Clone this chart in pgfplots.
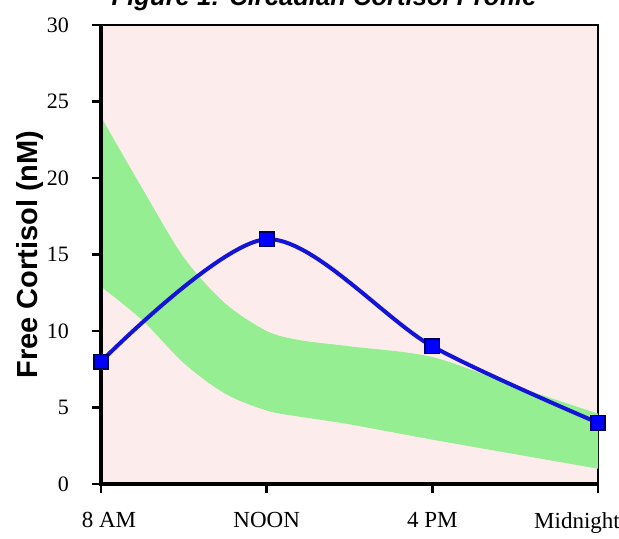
\documentclass[border=0pt]{standalone}
\usepackage{pgfplots}
\pgfplotsset{compat=1.18}
\usepgfplotslibrary{fillbetween}
\usepackage{fontspec}
\setmainfont{Liberation Serif}
\newfontfamily\arial{Liberation Sans}
\definecolor{bgpink}{RGB}{253,236,236}
\definecolor{bandgreen}{RGB}{150,238,146}
\definecolor{lineblue}{RGB}{20,20,215}
\definecolor{markedge}{RGB}{0,0,90}
\begin{document}
\begin{tikzpicture}
\begin{axis}[
  at={(0,0)}, anchor=south west,
  scale only axis,
  width=248.5pt, height=229.5pt,
  xmin=0, xmax=3, ymin=0, ymax=30,
  xtick={0,1,2,3},
  xticklabels={{\makebox[0pt]{\hspace*{8pt}8 AM}},NOON,4 PM,{\makebox[0pt]{\hspace*{-21pt}Midnight}}},
  ytick={0,5,...,30},
  tick align=outside,
  xtick pos=bottom, ytick pos=left,
  major tick length=4.5pt,
  every tick/.style={black, line width=1.2pt},
  axis line style={line width=0.9pt},
  axis background/.style={fill=bgpink},
  /pgf/number format/assume math mode=true,
  yticklabel style={font=\fontsize{11}{13}\selectfont, xshift=-8pt},
  xticklabel style={font=\fontsize{11.5}{13}\selectfont, yshift=-6pt},
  ylabel={\arial\bfseries Free Cortisol (nM)},
  ylabel style={font=\fontsize{14.5}{16}\selectfont, at={(axis description cs:-0.143,0.5)}, anchor=center, rotate=0},
  clip=false,
]
\addplot[name path=U, draw=none, smooth] coordinates {
  (0,24) (0.25,19.3) (0.5,14.8) (0.75,11.8) (1,10) (1.2,9.4) (1.5,9.0) (2,8.3) (2.5,6.4) (3,4.6)};
\addplot[name path=L, draw=none, smooth] coordinates {
  (0,12.9) (0.25,10.7) (0.5,7.9) (0.75,5.9) (1,4.8) (1.2,4.4) (1.5,3.9) (2,2.9) (2.5,1.95) (3,1.0)};
\addplot[fill=bandgreen, draw=none] fill between[of=U and L];
\draw[line width=1.8pt, black] (axis cs:0,30) -- (axis cs:0,0) -- (axis cs:3,0);
\addplot[lineblue, line width=2pt, smooth, mark=square*, mark size=3.6pt,
  mark options={fill=blue, draw=markedge, line width=0.8pt, solid}] coordinates {
  (0,8) (1,16) (2,9) (3,4)};
\node[font=\arial\bfseries\itshape\fontsize{12.8}{14}\selectfont, anchor=base]
  at (axis description cs:0.449,1) [yshift=10pt] {Figure 1: Circadian Cortisol Profile};
\end{axis}
\pgfresetboundingbox
\path (-50.5pt,-27pt) rectangle (259pt,242pt);
\end{tikzpicture}
\end{document}
